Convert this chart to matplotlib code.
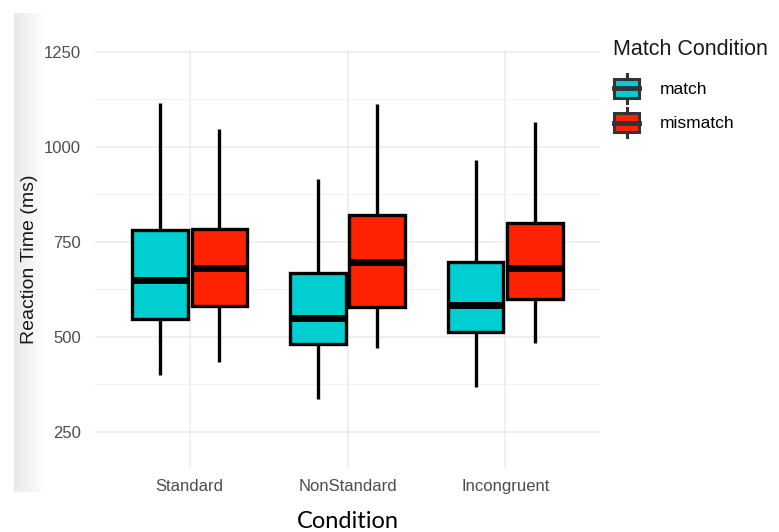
import numpy as np
import matplotlib
matplotlib.use("Agg")
from matplotlib import pyplot as plt
from matplotlib.patches import Rectangle, Patch
from matplotlib.lines import Line2D
from matplotlib.legend_handler import HandlerBase

# data (ms)
conditions = ["Standard", "NonStandard", "Incongruent"]
groups = ["match", "mismatch"]
colors = ["#00CED1", "#FF2200"]
whisk_lo = {"match": [400, 337, 368], "mismatch": [434, 471, 484]}
q1 = {"match": [547, 482, 513], "mismatch": [582, 579, 600]}
median = {"match": [650, 550, 584], "mismatch": [682, 697, 682]}
q3 = {"match": [782, 668, 697], "mismatch": [784, 821, 800]}
whisk_hi = {"match": [1116, 916, 966], "mismatch": [1047, 1113, 1066]}
y_ticks = [250, 500, 750, 1000, 1250]

plt.rcParams["font.family"] = ["Liberation Sans", "DejaVu Sans"]

fig = plt.figure(figsize=(7.79, 5.32), dpi=100)
ax = fig.add_axes([95 / 779, 1 - 468 / 532, 505 / 779, 418 / 532])

# screenshot shading strip on the left edge
bg = fig.add_axes([14 / 779, 1 - 492 / 532, 32 / 779, 479 / 532], zorder=-1)
grad = np.linspace(0.91, 1.0, 64)[None, :]
bg.imshow(grad, cmap="gray", vmin=0, vmax=1, aspect="auto")
bg.axis("off")

offsets = [-0.1875, 0.1875]
for g, grp in enumerate(groups):
    stats = []
    for i in range(len(conditions)):
        stats.append(
            dict(
                whislo=whisk_lo[grp][i],
                q1=q1[grp][i],
                med=median[grp][i],
                q3=q3[grp][i],
                whishi=whisk_hi[grp][i],
                fliers=[],
            )
        )
    pos = np.arange(1, len(conditions) + 1) + offsets[g]
    ax.bxp(
        stats,
        positions=pos,
        widths=0.35,
        patch_artist=True,
        showcaps=False,
        boxprops=dict(facecolor=colors[g], edgecolor="black", linewidth=2.4),
        whiskerprops=dict(color="black", linewidth=2.4, solid_capstyle="butt"),
        medianprops=dict(color="black", linewidth=5, solid_capstyle="butt"),
        manage_ticks=False,
        zorder=3,
    )

ax.set_xlim(0.4, 3.6)
ax.set_ylim(155, 1255)
ax.set_xticks(range(1, len(conditions) + 1))
ax.set_xticklabels(conditions)
ax.set_yticks(y_ticks)
ax.set_yticks([375, 625, 875, 1125], minor=True)
ax.grid(True, which="major", color="#ebebeb", linewidth=1.1)
ax.grid(True, which="minor", axis="y", color="#f2f2f2", linewidth=0.8)
ax.set_axisbelow(True)
for s in ax.spines.values():
    s.set_visible(False)
ax.tick_params(which="both", length=0, labelsize=12, labelcolor="#4d4d4d")
ax.tick_params(axis="y", pad=10)
ax.tick_params(axis="x", pad=8)
ax.set_ylabel("Reaction Time (ms)", fontsize=14, color="#1a1a1a", labelpad=4)
ax.set_xlabel("Condition", fontsize=17, family=["Lato", "DejaVu Sans"], color="black", labelpad=12)


class BoxKey(HandlerBase):
    def create_artists(self, legend, orig_handle, xdescent, ydescent, width, height, fontsize, trans):
        x0, y0 = -xdescent, -ydescent
        lo, hi = y0 + height * 0.17, y0 + height * 0.83
        cx = x0 + width / 2
        rect = Rectangle((x0 + 1, lo), width - 2, hi - lo, facecolor=orig_handle.get_facecolor(),
                         edgecolor="#333333", linewidth=2.2, transform=trans)
        med = Line2D([x0 + 1, x0 + width - 1], [(lo + hi) / 2] * 2, color="#333333", linewidth=3.5, transform=trans)
        w1 = Line2D([cx, cx], [y0, lo], color="#333333", linewidth=2.2, transform=trans)
        w2 = Line2D([cx, cx], [hi, y0 + height], color="#333333", linewidth=2.2, transform=trans)
        return [w1, w2, rect, med]


handles = [Patch(facecolor=c) for c in colors]
leg = fig.legend(
    handles,
    groups,
    handler_map={Patch: BoxKey()},
    loc="upper left",
    bbox_to_anchor=(613 / 779, 1 - 39 / 532),
    frameon=False,
    borderpad=0,
    borderaxespad=0,
    title="Match Condition",
    title_fontsize=15.5,
    fontsize=12.5,
    handlelength=1.6,
    handleheight=2.2,
    handletextpad=1.1,
    labelspacing=0.3,
)
leg._legend_box.align = "left"
leg._legend_box.sep = 10
leg.get_title().set_color("#1a1a1a")

fig.savefig("out.png", dpi=100)
